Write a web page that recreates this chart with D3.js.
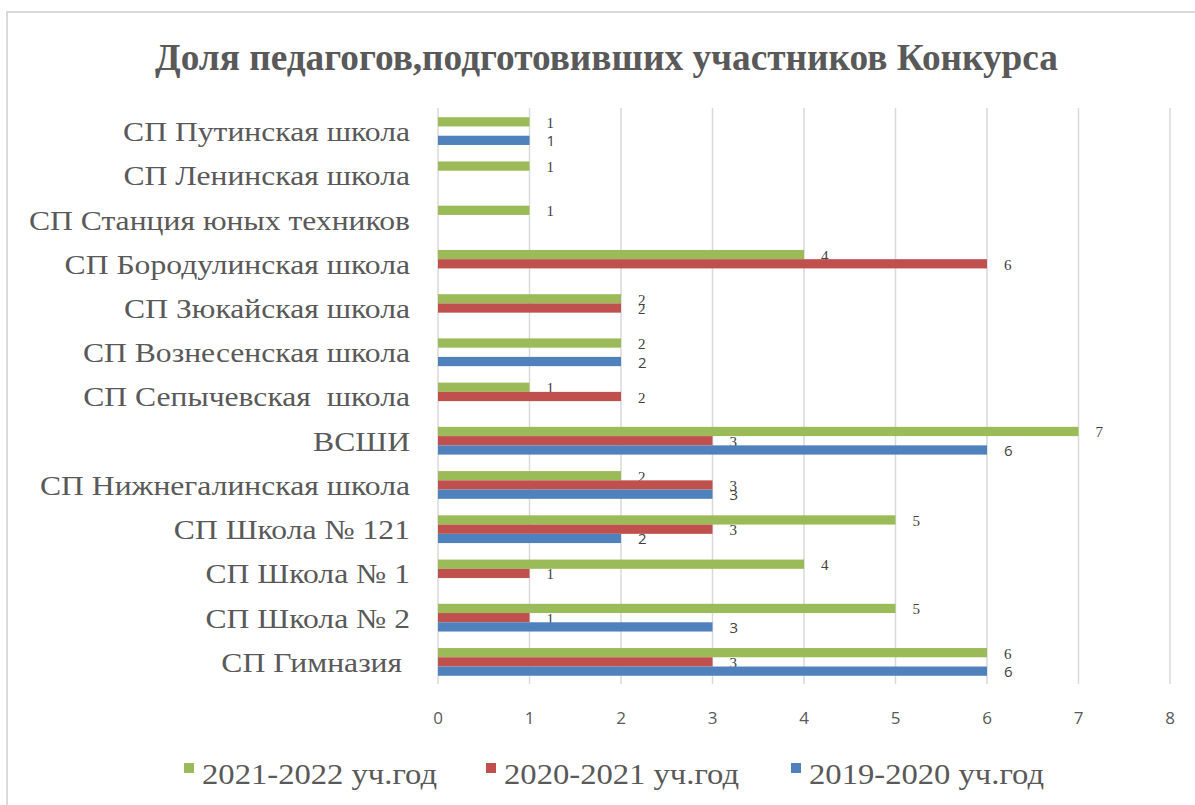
<!DOCTYPE html>
<html>
<head>
<meta charset="utf-8">
<script src="https://cdn.jsdelivr.net/npm/d3@7"></script>
<style>
  body { margin: 0; background: #fff; }
  svg { display: block; }
</style>
</head>
<body>
<svg id="chart" width="1195" height="805"></svg>
<script>
// categories top to bottom, as in the picture
const categories = [
    "СП Путинская школа", "СП Ленинская школа", "СП Станция юных техников",
    "СП Бородулинская школа", "СП Зюкайская школа", "СП Вознесенская школа",
    "СП Сепычевская  школа", "ВСШИ", "СП Нижнегалинская школа",
    "СП Школа № 121", "СП Школа № 1", "СП Школа № 2", "СП Гимназия "
];
const seriesNames = ["2021-2022 уч.год", "2020-2021 уч.год", "2019-2020 уч.год"];
const values2122 = [1, 1, 1, 4, 2, 2, 1, 7, 2, 5, 4, 5, 6];
const values2021 = [null, null, null, 6, 2, null, 2, 3, 3, 3, 1, 1, 3];
const values1920 = [1, null, null, null, null, 2, null, 6, 3, 2, null, 3, 6];
const seriesColors = ["#9bbb59", "#c0504d", "#4f81bd"];
const xTicks = [0, 1, 2, 3, 4, 5, 6, 7, 8];

const allSeries = [values2122, values2021, values1920];

const svg = d3.select("#chart");

// chart frame
svg.append("rect")
    .attr("x", 7).attr("y", 12)
    .attr("width", 1200).attr("height", 820)
    .attr("fill", "#fff")
    .attr("stroke", "#d9d9d9")
    .attr("stroke-width", 2);

// title
svg.append("text")
    .attr("x", 155).attr("y", 70)
    .attr("textLength", 903)
    .attr("lengthAdjust", "spacingAndGlyphs")
    .style("font-family", "'Liberation Serif', serif")
    .style("font-weight", "bold")
    .style("font-size", "38px")
    .style("fill", "#595959")
    .text("Доля педагогов,подготовивших участников Конкурса");

const x = d3.scaleLinear().domain([0, 8]).range([438, 1170]);
const y = d3.scaleBand().domain(categories).range([109, 684])
    .paddingInner(0.373).paddingOuter(0.186);
const ySub = d3.scaleBand().domain([0, 1, 2]).range([0, y.bandwidth()]);

// vertical gridlines
svg.append("g").selectAll("line")
    .data(xTicks)
    .join("line")
    .attr("x1", d => x(d)).attr("x2", d => x(d))
    .attr("y1", 108).attr("y2", 684)
    .attr("stroke", "#d9d9d9")
    .attr("stroke-width", 1.5);

// tick labels
svg.append("g").selectAll("text")
    .data(xTicks)
    .join("text")
    .attr("x", d => x(d)).attr("y", 724)
    .attr("text-anchor", "middle")
    .style("font-family", "'Open Sans', 'Liberation Sans', sans-serif")
    .style("font-size", "17px")
    .style("fill", "#595959")
    .text(d => d);

// category labels (the source font is a little wider than Liberation Serif)
svg.append("g")
    .attr("transform", "translate(410,0) scale(1.13,1)")
    .selectAll("text")
    .data(categories)
    .join("text")
    .attr("x", 0)
    .attr("y", d => y(d) + y.bandwidth() / 2 + 10)
    .attr("text-anchor", "end")
    .style("font-family", "'Liberation Serif', serif")
    .style("font-size", "28px")
    .style("fill", "#595959")
    .style("white-space", "pre")
    .text(d => d);

// bars + value labels
allSeries.forEach(function(vals, si) {
    const rows = categories.map((c, i) => ({cat: c, v: vals[i]})).filter(d => d.v !== null);
    const g = svg.append("g");
    g.selectAll("rect")
        .data(rows)
        .join("rect")
        .attr("x", x(0))
        .attr("y", d => y(d.cat) + ySub(si))
        .attr("width", d => x(d.v) - x(0))
        .attr("height", ySub.bandwidth())
        .attr("fill", seriesColors[si]);
    g.selectAll("text")
        .data(rows)
        .join("text")
        .attr("x", d => x(d.v) + 17)
        .attr("y", d => y(d.cat) + ySub(si) + ySub.bandwidth() / 2 + 6)
        .style("font-family", si === 2 ? "'Open Sans', 'Liberation Sans', sans-serif" : "'Liberation Serif', serif")
        .style("font-size", "15px")
        .style("fill", "#404040")
        .text(d => d.v);
});

// legend
const legendX = [184, 486, 791];
const legend = svg.append("g").selectAll("g")
    .data(seriesNames)
    .join("g")
    .attr("transform", (d, i) => "translate(" + legendX[i] + ",0)");
legend.append("rect")
    .attr("x", 0).attr("y", 763)
    .attr("width", 10).attr("height", 10)
    .attr("fill", (d, i) => seriesColors[i]);
legend.append("text")
    .attr("x", 18).attr("y", 784)
    .attr("textLength", 235)
    .attr("lengthAdjust", "spacingAndGlyphs")
    .style("font-family", "'Liberation Serif', serif")
    .style("font-size", "30px")
    .style("fill", "#595959")
    .text(d => d);
</script>
</body>
</html>
